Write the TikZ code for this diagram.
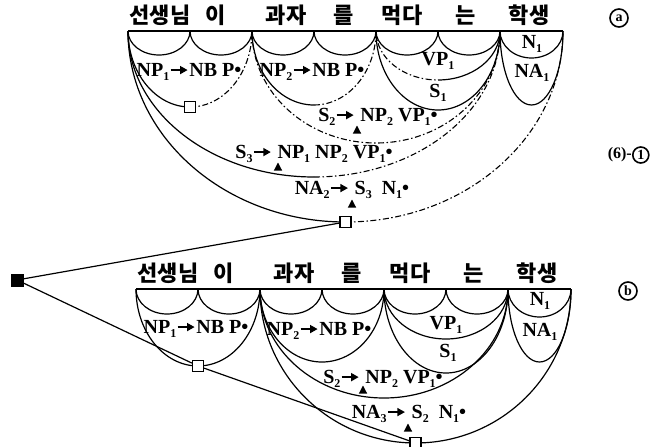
\documentclass[tikz,border=0pt]{standalone}
\usepackage{fontspec}
\setmainfont{Liberation Serif}
\newfontfamily\krfont{Noto Sans CJK KR}
\usetikzlibrary{shapes.geometric,arrows.meta}
\newcommand\lo[1]{\raisebox{-0.45ex}{\fontsize{12}{12}\selectfont #1}}
\newcommand\rar{\hspace{0.5pt}\tikz[baseline=-0.7ex]\draw[line width=1.5pt,-{Triangle[length=7.5pt,width=8pt]}] (0pt,0pt) -- (17pt,0pt);\hspace{1pt}}
\newcommand\dt{\textbullet}
\begin{document}
\begin{tikzpicture}[x=1pt,y=-1pt,
  base/.style={line width=1.5pt},
  arcl/.style={line width=1.2pt},
  brk/.style={line width=1.1pt, dash pattern=on 6pt off 2.5pt on 1.5pt off 2.5pt},
  lab/.style={font=\bfseries\fontsize{20}{20}\selectfont, inner sep=0pt},
  kor/.style={font=\krfont\bfseries\fontsize{22}{22}\selectfont, inner sep=0pt},
  box/.style={draw, line width=1.2pt, fill=white, minimum size=11pt, inner sep=0pt},
  blk/.style={draw, fill=black, minimum size=12pt, inner sep=0pt},
  tri/.style={fill=black, isosceles triangle, isosceles triangle apex angle=55, shape border rotate=90, minimum height=8pt, inner sep=0pt},
  circ/.style={circle, draw, line width=1.6pt, minimum size=18pt, inner sep=0pt, font=\bfseries\fontsize{14}{14}\selectfont}
]
\useasboundingbox (0,0) rectangle (665,447);
% baseline points
\foreach \i/\x in {0/128,1/190,2/252,3/314,4/376,5/438,6/500,7/563}
  \coordinate (a\i) at (\x,31);
\foreach \i/\x in {0/136,1/198,2/260,3/322,4/384,5/446,6/508,7/571}
  \coordinate (b\i) at (\x,289);
\draw[base] (a0) -- (a7);
\draw[base] (b0) -- (b7);
% ---------- diagram (a)
\foreach \i in {0,...,5}
  \draw[arcl] (a\i) arc[start angle=180,end angle=360,x radius=31pt,y radius=24pt];
\draw[arcl] (a6) arc[start angle=180,end angle=360,x radius=31.5pt,y radius=27pt];
\draw[arcl] (a6) arc[start angle=180,end angle=360,x radius=31.5pt,y radius=74pt];
% NP1
\draw[arcl] (a0) arc[start angle=180,end angle=270,x radius=62pt,y radius=76pt] coordinate (np1am);
\draw[brk] (np1am) arc[start angle=270,end angle=360,x radius=62pt,y radius=76pt];
% NP2
\draw[arcl] (a2) arc[start angle=180,end angle=270,x radius=62pt,y radius=74pt] coordinate (np2am);
\draw[brk] (np2am) arc[start angle=270,end angle=360,x radius=62pt,y radius=74pt];
% VP1
\draw[brk] (a4) arc[start angle=180,end angle=270,x radius=62pt,y radius=49pt] coordinate (vp1am);
\draw[arcl] (vp1am) arc[start angle=270,end angle=360,x radius=62pt,y radius=49pt];
% S1
\draw[arcl] (a4) arc[start angle=180,end angle=360,x radius=62pt,y radius=79pt];
% S2
\draw[brk] (a2) arc[start angle=180,end angle=360,x radius=124pt,y radius=112pt];
% S3
\draw[arcl] (a0) arc[start angle=180,end angle=270,x radius=186pt,y radius=146pt] coordinate (s3am);
\draw[brk] (s3am) arc[start angle=270,end angle=360,x radius=186pt,y radius=146pt];
% NA2
\draw[arcl] (a0) arc[start angle=180,end angle=270,x radius=217.5pt,y radius=191pt] coordinate (na2am);
\draw[brk] (na2am) arc[start angle=270,end angle=360,x radius=217.5pt,y radius=191pt];
% ---------- diagram (b)
\foreach \i in {0,...,5}
  \draw[arcl] (b\i) arc[start angle=180,end angle=360,x radius=31pt,y radius=25pt];
\draw[arcl] (b6) arc[start angle=180,end angle=360,x radius=31.5pt,y radius=28pt];
\draw[arcl] (b6) arc[start angle=180,end angle=360,x radius=31.5pt,y radius=73pt];
\draw[arcl] (b0) arc[start angle=180,end angle=360,x radius=62pt,y radius=77pt];
\draw[arcl] (b2) arc[start angle=180,end angle=360,x radius=62pt,y radius=73pt];
\draw[arcl] (b4) arc[start angle=180,end angle=360,x radius=62pt,y radius=50pt];
\draw[arcl] (b4) arc[start angle=180,end angle=360,x radius=62pt,y radius=84pt];
\draw[arcl] (b2) arc[start angle=180,end angle=360,x radius=124pt,y radius=109pt];
\draw[arcl] (b2) arc[start angle=180,end angle=360,x radius=155.5pt,y radius=154pt];
% ---------- squares and links
\node[box] (sqNPa) at (190,107) {};
\node[box] (sqNAa) at (345.5,222) {};
\node[box] (sqNPb) at (198,366) {};
\node[box] (sqNAb) at (415.5,443) {};
\node[blk] (start) at (17,280) {};
\draw[arcl] (start) -- (sqNAa);
\draw[arcl] (start) -- (sqNPb) -- (sqNAb);
% ---------- words
\foreach \w/\x [count=\k] in {선생님/160,이/216,과자/286,를/344,먹다/402,는/466,학생/529}{
  \node[kor] (wa\k) at (\x,15) {\w};
  \node[kor] (wb\k) at (\x+8,273) {\w};
}
% ---------- labels (a)
\node[lab] (lNP1a) at (189,72) {NP\lo1\rar NB P\dt};
\node[lab] (lNP2a) at (312,72) {NP\lo2\rar NB P\dt};
\node[lab] (lVP1a) at (438,61) {VP\lo1};
\node[lab] (lS1a) at (438,93) {S\lo1};
\node[lab] (lS2a) at (378,117) {S\lo2\rar\ NP\lo2 VP\lo1\dt};
\node[lab] (lS3a) at (314,154) {S\lo3\rar\ NP\lo1 NP\lo2 VP\lo1\dt};
\node[lab] (lNA2a) at (352,190) {NA\lo2\rar\ S\lo3\ \ N\lo1\dt};
\node[lab] (lN1a) at (532,44) {N\lo1};
\node[lab] (lNA1a) at (532,73) {NA\lo1};
\node[tri] (tS2a) at (357,131) {};
\node[tri] (tS3a) at (278,168) {};
\node[tri] (tNA2a) at (352,205) {};
% ---------- labels (b)
\node[lab] (lNP1b) at (196,329) {NP\lo1\rar NB P\dt};
\node[lab] (lNP2b) at (319,331) {NP\lo2\rar NB P\dt};
\node[lab] (lVP1b) at (446,325) {VP\lo1};
\node[lab] (lS1b) at (448,353) {S\lo1};
\node[lab] (lS2b) at (383,379) {S\lo2\rar\ NP\lo2 VP\lo1\dt};
\node[lab] (lNA3b) at (409,414) {NA\lo3\rar\ S\lo2\ \ N\lo1\dt};
\node[lab] (lN1b) at (540,301) {N\lo1};
\node[lab] (lNA1b) at (540,332) {NA\lo1};
\node[tri] (tS2b) at (363,391) {};
\node[tri] (tNA3b) at (408,429) {};
% ---------- side marks
\node[circ] (ca) at (619,18) {a};
\node[circ] (cb) at (628,291) {b};
\node[font=\bfseries\fontsize{16}{16}\selectfont, inner sep=0pt, anchor=east] (six) at (632,155) {(6)-};
\node[circ, minimum size=16pt, anchor=west] (c1) at (six.east) {1};
\end{tikzpicture}
\end{document}
